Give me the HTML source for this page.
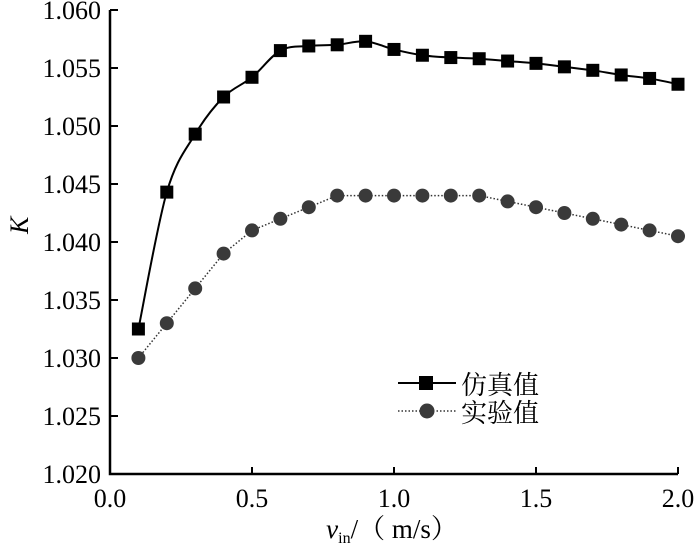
<!DOCTYPE html>
<html><head><meta charset="utf-8"><style>
body{margin:0;background:#fff}
svg text{font-family:"Liberation Serif","Noto Serif CJK SC",serif;fill:#000}
</style></head><body>
<svg width="700" height="550" xmlns="http://www.w3.org/2000/svg">
<g id="axes"></g><g id="plot"></g>
<g>
<line x1="398" y1="383" x2="456" y2="383" stroke="#000" stroke-width="2"/>
<rect x="419" y="376" width="14" height="14" fill="#000"/>
<text x="461" y="394" font-size="26" font-family="Noto Serif CJK SC, serif">仿真值</text>
<line x1="398" y1="411" x2="456" y2="411" stroke="#333" stroke-width="1.5" stroke-dasharray="1.5,2"/>
<circle cx="427" cy="411" r="7.5" fill="#3a3a3a"/>
<text x="461" y="422" font-size="26" font-family="Noto Serif CJK SC, serif">实验值</text>
</g>
<text x="26" y="248" font-size="26" font-style="italic" transform="rotate(-90 20 240)">K</text>
<text x="392" y="538" font-size="27" text-anchor="middle"><tspan font-style="italic">v</tspan><tspan font-size="16" dy="5">in</tspan><tspan dy="-5">/（ m/s）</tspan></text>
</svg>
<script>
const xs=[0.1,0.2,0.3,0.4,0.5,0.6,0.7,0.8,0.9,1.0,1.1,1.2,1.3,1.4,1.5,1.6,1.7,1.8,1.9,2.0];
const simValues=[1.0325,1.0443,1.0493,1.0525,1.0542,1.0565,1.0569,1.0570,1.0573,1.0566,1.0561,1.0559,1.0558,1.0556,1.0554,1.0551,1.0548,1.0544,1.0541,1.0536];
const expValues=[1.030,1.033,1.036,1.039,1.041,1.042,1.043,1.044,1.044,1.044,1.044,1.044,1.044,1.0435,1.043,1.0425,1.042,1.0415,1.041,1.0405];
const xTicks=["0.0","0.5","1.0","1.5","2.0"];
const yTicks=["1.020","1.025","1.030","1.035","1.040","1.045","1.050","1.055","1.060"];
const X=v=>110+(v/2)*568, Y=v=>474-(v-1.020)/0.04*464;
const NS="http://www.w3.org/2000/svg";
const axes=document.getElementById('axes'),plot=document.getElementById('plot');
function mk(t,a,p){const e=document.createElementNS(NS,t);for(const k in a)e.setAttribute(k,a[k]);p.appendChild(e);return e;}
let ax=mk('path',{d:`M110 10 L110 474 L678 474`,fill:'none',stroke:'#000','stroke-width':2.5},axes);


xTicks.forEach(t=>{const x=X(+t);
 if(+t>0){mk('line',{x1:x,y1:474,x2:x,y2:467,stroke:'#000','stroke-width':2},axes);}
 const tx=mk('text',{x:x,y:507,'font-size':26,'text-anchor':'middle'},axes);tx.textContent=t;
 
 });
yTicks.forEach(t=>{const y=Y(+t);
 mk('line',{x1:110,y1:y,x2:118,y2:y,stroke:'#000','stroke-width':2},axes);
 const tx=mk('text',{x:101,y:y+9,'font-size':26,'text-anchor':'end'},axes);tx.textContent=t;
 
 });
function smooth(pts){let d=`M${pts[0][0]} ${pts[0][1]}`;for(let i=0;i<pts.length-1;i++){const p0=pts[i-1]||pts[i],p1=pts[i],p2=pts[i+1],p3=pts[i+2]||p2;
 d+=` C${p1[0]+(p2[0]-p0[0])/6} ${p1[1]+(p2[1]-p0[1])/6} ${p2[0]-(p3[0]-p1[0])/6} ${p2[1]-(p3[1]-p1[1])/6} ${p2[0]} ${p2[1]}`;}return d;}
const sp=xs.map((x,i)=>[X(x),Y(simValues[i])]), ep=xs.map((x,i)=>[X(x),Y(expValues[i])]);
const l1=mk('path',{d:smooth(sp),fill:'none',stroke:'#000','stroke-width':2},plot);


const l2=mk('path',{d:'M'+ep.map(p=>p.join(' ')).join(' L'),fill:'none',stroke:'#333','stroke-width':1.5,'stroke-dasharray':'1.5,2'},plot);


sp.forEach(p=>{const r=mk('rect',{x:p[0]-6.5,y:p[1]-6.5,width:13,height:13,fill:'#000'},plot);
 
 });
ep.forEach(p=>{const c=mk('circle',{cx:p[0],cy:p[1],r:7,fill:'#3a3a3a'},plot);
 
 });
</script>
</body></html>
